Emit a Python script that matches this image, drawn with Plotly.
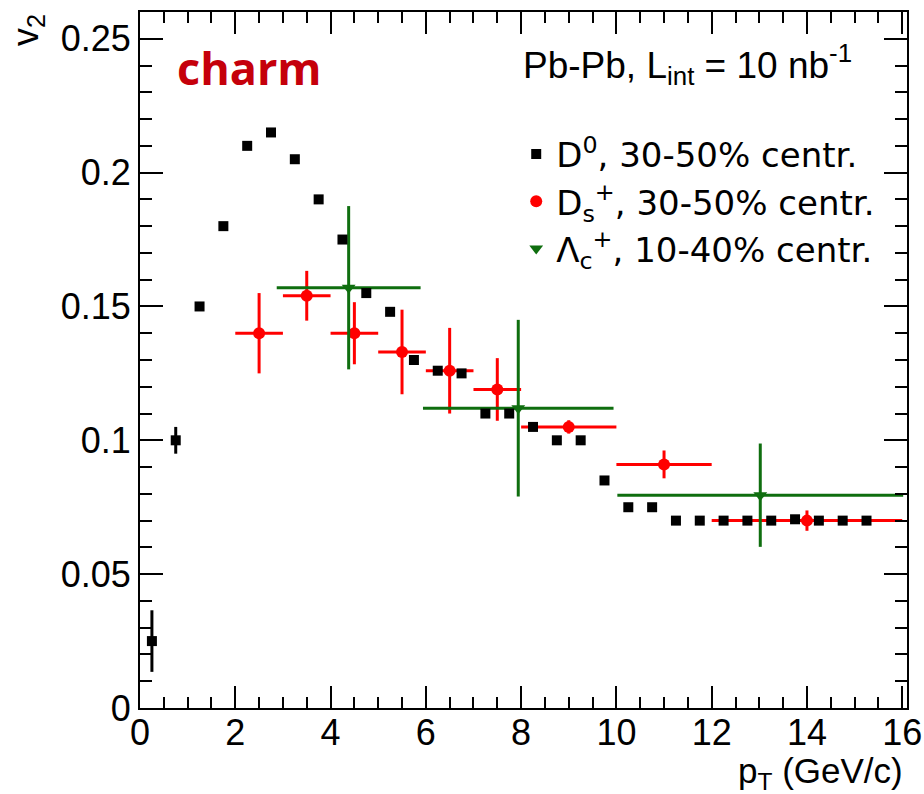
import plotly.graph_objects as go

# ---------------- data ----------------
d0_pt = [0.25, 0.75, 1.25, 1.75, 2.25, 2.75, 3.25, 3.75, 4.25, 4.75, 5.25, 5.75,
         6.25, 6.75, 7.25, 7.75, 8.25, 8.75, 9.25, 9.75, 10.25, 10.75, 11.25,
         11.75, 12.25, 12.75, 13.25, 13.75, 14.25, 14.75, 15.25]
d0_v2 = [0.025, 0.100, 0.150, 0.180, 0.210, 0.215, 0.205, 0.190, 0.175, 0.155,
         0.148, 0.130, 0.126, 0.125, 0.110, 0.110, 0.105, 0.100, 0.100, 0.085,
         0.075, 0.075, 0.070, 0.070, 0.070, 0.070, 0.070, 0.0705, 0.070, 0.070,
         0.070]
d0_err = [0.0115, 0.005, 0.0015, 0.0015, 0.0015, 0.0015, 0.0015, 0.0015, 0.0015,
          0.0015, 0.0015, 0.0015, 0.0015, 0.0015, 0.0015, 0.0015, 0.0015, 0.0015,
          0.0015, 0.0015, 0.0015, 0.0015, 0.0015, 0.0015, 0.0015, 0.0015, 0.0015,
          0.0015, 0.0015, 0.0015, 0.0015]

ds_pt = [2.5, 3.5, 4.5, 5.5, 6.5, 7.5, 9.0, 11.0, 14.0]
ds_ex = [0.5, 0.5, 0.5, 0.5, 0.5, 0.5, 1.0, 1.0, 2.0]
ds_v2 = [0.140, 0.154, 0.140, 0.133, 0.126, 0.119, 0.105, 0.091, 0.070]
ds_ey = [0.015, 0.0093, 0.0116, 0.0158, 0.016, 0.0117, 0.0025, 0.0052, 0.0038]

lc_pt = [4.38, 7.94, 13.02]
lc_ex = [1.51, 2.0, 3.0]
lc_v2 = [0.157, 0.112, 0.0795]
lc_ey = [0.0305, 0.033, 0.0193]

x_ticks = [0, 2, 4, 6, 8, 10, 12, 14, 16]
y_ticks = [0, 0.05, 0.1, 0.15, 0.2, 0.25]

RED = "#ff0000"
GREEN = "#0f6e0f"
FONT = "Liberation Sans"

fig = go.Figure()

fig.add_trace(go.Scatter(
    x=ds_pt, y=ds_v2, mode="markers",
    name="D<sub>s</sub><sup>+</sup>, 30-50% centr.", legendrank=2, legendgroup="ds",
    marker=dict(symbol="circle", size=12, color=RED),
    error_x=dict(type="data", array=ds_ex, color=RED, thickness=3, width=0),
    error_y=dict(type="data", array=ds_ey, color=RED, thickness=3, width=0),
))
fig.add_trace(go.Scatter(
    x=lc_pt, y=lc_v2, mode="markers",
    name="\u039b<sub>c</sub><sup>+</sup>, 10-40% centr.", legendrank=3, legendgroup="lc",
    marker=dict(symbol="triangle-down", size=12, color=GREEN),
    error_x=dict(type="data", array=lc_ex, color=GREEN, thickness=3, width=0),
    error_y=dict(type="data", array=lc_ey, color=GREEN, thickness=3, width=0),
))
fig.add_trace(go.Scatter(
    x=d0_pt, y=d0_v2, mode="markers",
    name="D<sup>0</sup>, 30-50% centr.", legendrank=1, legendgroup="d0",
    marker=dict(symbol="square", size=10, color="black"),
    error_y=dict(type="data", array=d0_err, color="black", thickness=3, width=0),
))

axis_common = dict(
    showline=True, linecolor="black", linewidth=2, mirror="allticks",
    ticks="inside", tickcolor="black", tickwidth=2,
    showgrid=False, zeroline=False, automargin=False,
    tickfont=dict(family=FONT, size=36, color="black"),
)

fig.update_xaxes(range=[0, 16.1], tickvals=x_ticks, ticklen=22,
                 ticklabelstandoff=-8,
                 minor=dict(ticks="inside", dtick=0.5, ticklen=11,
                            tickcolor="black", tickwidth=2, showgrid=False),
                 **axis_common)
fig.update_yaxes(range=[0, 0.26], tickvals=y_ticks, ticklen=23,
                 minor=dict(ticks="inside", dtick=0.01, ticklen=12,
                            tickcolor="black", tickwidth=2, showgrid=False),
                 **axis_common)

fig.update_layout(
    width=924, height=794,
    margin=dict(l=140, r=17, t=12, b=86),
    paper_bgcolor="white", plot_bgcolor="white",
    showlegend=True,
    legend=dict(x=0.4905, y=0.837, xanchor="left", yanchor="top",
                bgcolor="rgba(0,0,0,0)", borderwidth=0,
                font=dict(family="DejaVu Sans", size=34, color="black"),
                traceorder="normal", tracegroupgap=15, itemsizing="trace"),
    annotations=[
        dict(text="charm", xref="paper", yref="paper", x=0.045, y=0.92,
             xanchor="left", yanchor="middle", showarrow=False,
             font=dict(family="Open Sans", size=45, color="#c5000b", weight="bold")),
        dict(text="Pb-Pb, L<sub>int</sub> = 10 nb<sup>-1</sup>", xref="paper", yref="paper",
             x=0.497, y=0.925, xanchor="left", yanchor="middle", showarrow=False,
             font=dict(family=FONT, size=37, color="black")),
        dict(text="p<sub>T</sub> (GeV/c)", xref="paper", yref="paper",
             x=0.997, y=-0.094, xanchor="right", yanchor="middle", showarrow=False,
             font=dict(family=FONT, size=35, color="black")),
        dict(text="v<sub>2</sub>", xref="paper", yref="paper", textangle=-90,
             x=-0.146, y=0.974, xanchor="center", yanchor="middle", showarrow=False,
             font=dict(family=FONT, size=36, color="black")),
    ],
)

fig.write_html("out.html")
